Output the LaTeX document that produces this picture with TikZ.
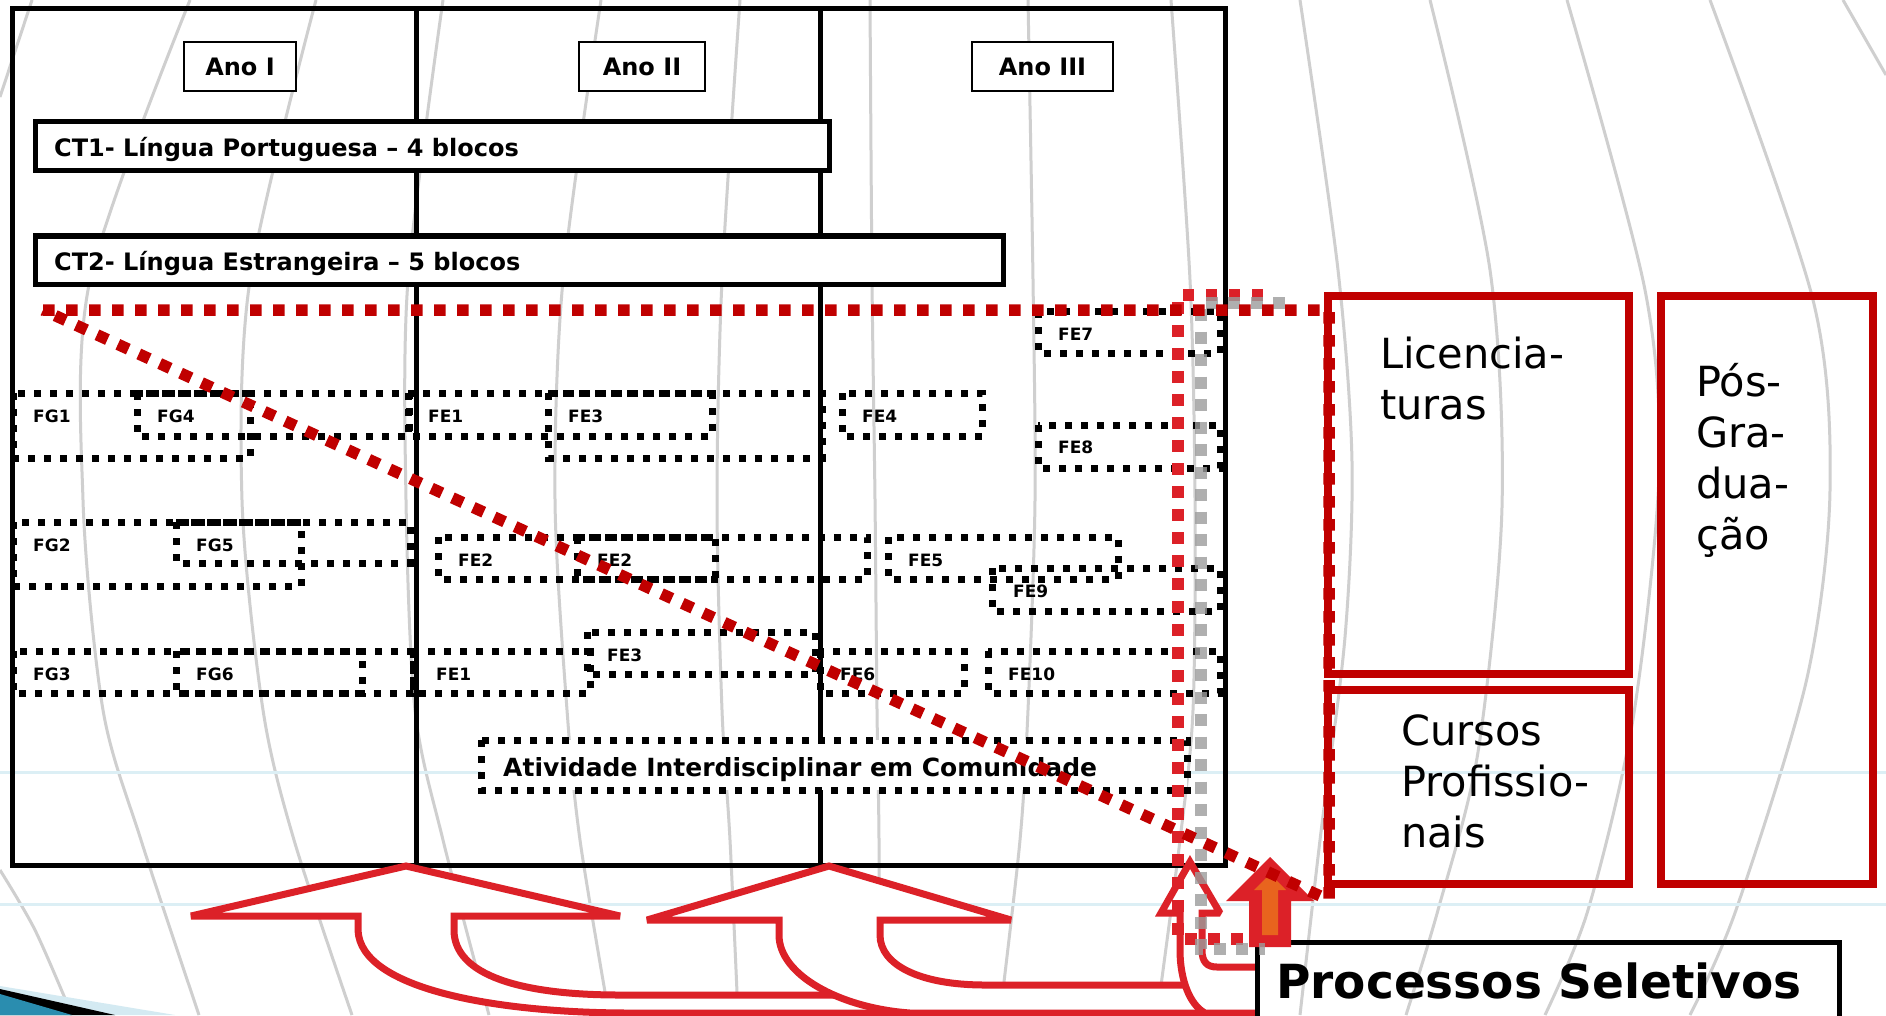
\documentclass[tikz,border=0pt]{standalone}
\usepackage{fontspec}
\setmainfont{DejaVu Sans}
\definecolor{dred}{HTML}{C00000}
\definecolor{bred}{HTML}{DC2128}
\definecolor{org}{HTML}{E8641E}
\definecolor{bgline}{HTML}{CFCFCF}
\definecolor{cyanline}{HTML}{DCEFF5}
\definecolor{gdot}{HTML}{9C9C9C}
\definecolor{teal}{HTML}{2A8DAF}
\definecolor{lblue}{HTML}{D4EAF2}
\begin{document}
\begin{tikzpicture}[x=1pt,y=-1pt,
  bg/.style={draw=bgline, line width=3pt},
  frame/.style={draw=black, line width=5pt},
  ano/.style={draw=black, line width=2.5pt, fill=white, minimum height=49pt, inner sep=0pt, font=\bfseries\fontsize{24}{28}\selectfont},
  ctbox/.style={draw=black, line width=5.5pt, fill=white},
  cttext/.style={anchor=base west, inner sep=0pt, font=\bfseries\fontsize{24}{28}\selectfont},
  dotbox/.style={draw=black, line width=7pt, dash pattern=on 7pt off 9pt},
  lbl/.style={anchor=base west, inner sep=0pt, font=\bfseries\fontsize{17}{20}\selectfont},
  redbox/.style={draw=dred, line width=8pt},
  rtxt/.style={anchor=base west, inner sep=0pt, font=\fontsize{41.5}{50}\selectfont},
  warrow/.style={draw=bred, fill=white, line width=7pt, line join=miter, miter limit=2},
  reddots/.style={line width=11.5pt, dash pattern=on 11.5pt off 11.5pt}]
\useasboundingbox (0,0) rectangle (1886,1015);
\clip (0,0) rectangle (1886,1015);
\fill[white] (0,0) rectangle (1886,1015);

% background globe lines
\draw[bg] plot[smooth] coordinates {(32,0) (0,97)};
\draw[bg] plot[smooth] coordinates {(0,870) (35,930) (72,1015)};
\draw[bg] plot[smooth] coordinates {(190,0) (90,280) (83,500) (103,710) (141,840) (199,1015)};
\draw[bg] plot[smooth] coordinates {(316,0) (250,280) (242,500) (263,710) (294,840) (352,1015)};
\draw[bg] plot[smooth] coordinates {(443,0) (408,280) (406,500) (415,710) (443,840) (489,1015)};
\draw[bg] plot[smooth] coordinates {(601,0) (563,280) (555,500) (567,710) (580,840) (609,1015)};
\draw[bg] plot[smooth] coordinates {(740,0) (722,280) (717,500) (722,710) (730,840) (738,1015)};
\draw[bg] plot[smooth] coordinates {(870,0) (872,280) (875,500) (877,710) (879,840) (879,1015)};
\draw[bg] plot[smooth] coordinates {(1028,0) (1033,280) (1035,500) (1028,710) (1020,840) (1000,1015)};
\draw[bg] plot[smooth] coordinates {(1171,0) (1190,280) (1195,500) (1193,710) (1180,840) (1157,1015)};
\draw[bg] plot[smooth] coordinates {(1300,0) (1338,270) (1352,462) (1345,637) (1320,840) (1300,1015)};
\draw[bg] plot[smooth] coordinates {(1430,0) (1490,270) (1502,507) (1478,752) (1438,910) (1406,1015)};
\draw[bg] plot[smooth] coordinates {(1567,0) (1645,290) (1659,474) (1633,719) (1588,910) (1545,1015)};
\draw[bg] plot[smooth] coordinates {(1710,0) (1813,300) (1830,490) (1807,678) (1736,910) (1690,1015)};
\draw[bg] plot[smooth] coordinates {(1843,0) (1886,75)};
\draw[draw=cyanline, line width=3pt] (0,772) -- (1886,772);
\draw[draw=cyanline, line width=3pt] (0,904) -- (1886,904);

% bottom-left swoosh
\fill[lblue] (0,986) -- (175,1015) -- (0,1015) -- cycle;
\fill[black] (0,989) -- (115,1015) -- (0,1015) -- cycle;
\fill[teal] (0,994) -- (72,1015) -- (0,1015) -- cycle;

% frame and year columns
\draw[frame] (12,8) rectangle (1225,865);
\draw[frame] (416,8) -- (416,865);
\draw[frame] (820,8) -- (820,865);

\node[ano, minimum width=112pt] (ano1) at (240,66.5) {Ano I};
\node[ano, minimum width=126pt] (ano2) at (642,66.5) {Ano II};
\node[ano, minimum width=141pt] (ano3) at (1042.5,66.5) {Ano III};

\draw[ctbox] (35.5,121.5) rectangle (829.5,170.5);
\node[cttext] (ct1) at (54,156) {CT1- Língua Portuguesa – 4 blocos};
\draw[ctbox] (35.5,236) rectangle (1003.5,284.5);
\node[cttext] (ct2) at (54,270) {CT2- Língua Estrangeira – 5 blocos};

% dotted boxes row 1
\draw[dotbox] (13,393) rectangle (250,458);
\draw[dotbox] (137,393) rectangle (409,436);
\draw[dotbox] (408,393) rectangle (712,436);
\draw[dotbox] (548,393) rectangle (822,458);
\draw[dotbox] (842,393) rectangle (982,436);
\draw[dotbox] (1038,311) rectangle (1220,353);
\draw[dotbox] (1038,425) rectangle (1220,468);
% row 2
\draw[dotbox] (13,522) rectangle (301,586);
\draw[dotbox] (176,522) rectangle (410,563);
\draw[dotbox] (438,537) rectangle (715,579);
\draw[dotbox] (577,537) rectangle (867,579);
\draw[dotbox] (888,537) rectangle (1118,579);
\draw[dotbox] (992,568) rectangle (1220,611);
% row 3
\draw[dotbox] (13,651) rectangle (362,693);
\draw[dotbox] (176,651) rectangle (413,693);
\draw[dotbox] (413,651) rectangle (590,693);
\draw[dotbox] (587,632) rectangle (815,674);
\draw[dotbox] (820,651) rectangle (964,693);
\draw[dotbox] (988,651) rectangle (1220,693);

\node[lbl] (fg1) at (33,422) {FG1};
\node[lbl] (fg4) at (157,422) {FG4};
\node[lbl] (fe1a) at (428,422) {FE1};
\node[lbl] (fe3a) at (568,422) {FE3};
\node[lbl] (fe4) at (862,422) {FE4};
\node[lbl] (fe7) at (1058,340) {FE7};
\node[lbl] (fe8) at (1058,453) {FE8};
\node[lbl] (fg2) at (33,551) {FG2};
\node[lbl] (fg5) at (196,551) {FG5};
\node[lbl] (fe2a) at (458,566) {FE2};
\node[lbl] (fe2b) at (597,566) {FE2};
\node[lbl] (fe5) at (908,566) {FE5};
\node[lbl] (fe9) at (1013,597) {FE9};
\node[lbl] (fg3) at (33,680) {FG3};
\node[lbl] (fg6) at (196,680) {FG6};
\node[lbl] (fe1b) at (436,680) {FE1};
\node[lbl] (fe3b) at (607,661) {FE3};
\node[lbl] (fe6) at (840,680) {FE6};
\node[lbl] (fe10) at (1008,680) {FE10};

\draw[dotbox, fill=white] (481,740) rectangle (1187,790);
\node[anchor=base west, inner sep=0pt, font=\bfseries\fontsize{25}{30}\selectfont] (ativ) at (503,776) {Atividade Interdisciplinar em Comunidade};

% red boxes on the right
\draw[redbox] (1328,296) rectangle (1629,674);
\draw[redbox] (1328,690) rectangle (1629,884);
\draw[redbox] (1660.5,296) rectangle (1873,884);
\node[rtxt] (lic1) at (1380,368) {Licencia-};
\node[rtxt] (lic2) at (1380,419) {turas};
\node[rtxt] (cur1) at (1401,745.5) {Cursos};
\node[rtxt] (cur2) at (1401,796.5) {Profissio-};
\node[rtxt] (cur3) at (1401,847.5) {nais};
\node[rtxt] (pos1) at (1696,396.5) {Pós-};
\node[rtxt] (pos2) at (1696,447.5) {Gra-};
\node[rtxt] (pos3) at (1696,498.5) {dua-};
\node[rtxt] (pos4) at (1696,549.5) {ção};

% curved up arrows from the selection processes
\draw[warrow] (1255,1013) -- (630,1013) .. controls (500,1013) and (360,990) .. (358,930) -- (358,916) -- (191,916) -- (406,866) -- (620,916) -- (454,916) -- (454,930) .. controls (454,975) and (520,995) .. (620,995) -- (1255,995);
\draw[warrow] (1255,1013) -- (910,1013) .. controls (840,1008) and (779,975) .. (779,935) -- (779,920) -- (647,920) -- (829,866) -- (1011,920) -- (880,920) -- (880,935) .. controls (880,965) and (920,985) .. (985,985) -- (1255,985);
\draw[warrow] (1255,1013) -- (1205,1013) .. controls (1190,1005) and (1180,980) .. (1180,950) -- (1180,913) -- (1161,913) -- (1190,862) -- (1220,913) -- (1202,913) -- (1202,950) .. controls (1202,962) and (1207,967) .. (1217,967) -- (1255,967);

% Processos Seletivos
\draw[line width=5pt] (1257,1030) -- (1257,942) -- (1839,942) -- (1839,1030);
\node[anchor=base west, inner sep=0pt, font=\bfseries\fontsize{47}{52}\selectfont] (proc) at (1276,998) {Processos Seletivos};

% red/orange arrow
\fill[bred] (1270,857) -- (1314,901) -- (1291,901) -- (1291,947) -- (1249,947) -- (1249,901) -- (1226,901) -- cycle;
\fill[org] (1270,874) -- (1286,890) -- (1278,890) -- (1278,935) -- (1262,935) -- (1262,890) -- (1254,890) -- cycle;

% dotted markers
\draw[bred, reddots] (1263,295) -- (1178,295) -- (1178,939) -- (1245,939);
\draw[gdot, opacity=0.8, line width=12pt, dash pattern=on 12pt off 10.5pt] (1285,303) -- (1201,303) -- (1201,949) -- (1265,949);
\draw[dred, reddots] (43,310) -- (1329,310) -- (1329,900) -- cycle;
\end{tikzpicture}
\end{document}
